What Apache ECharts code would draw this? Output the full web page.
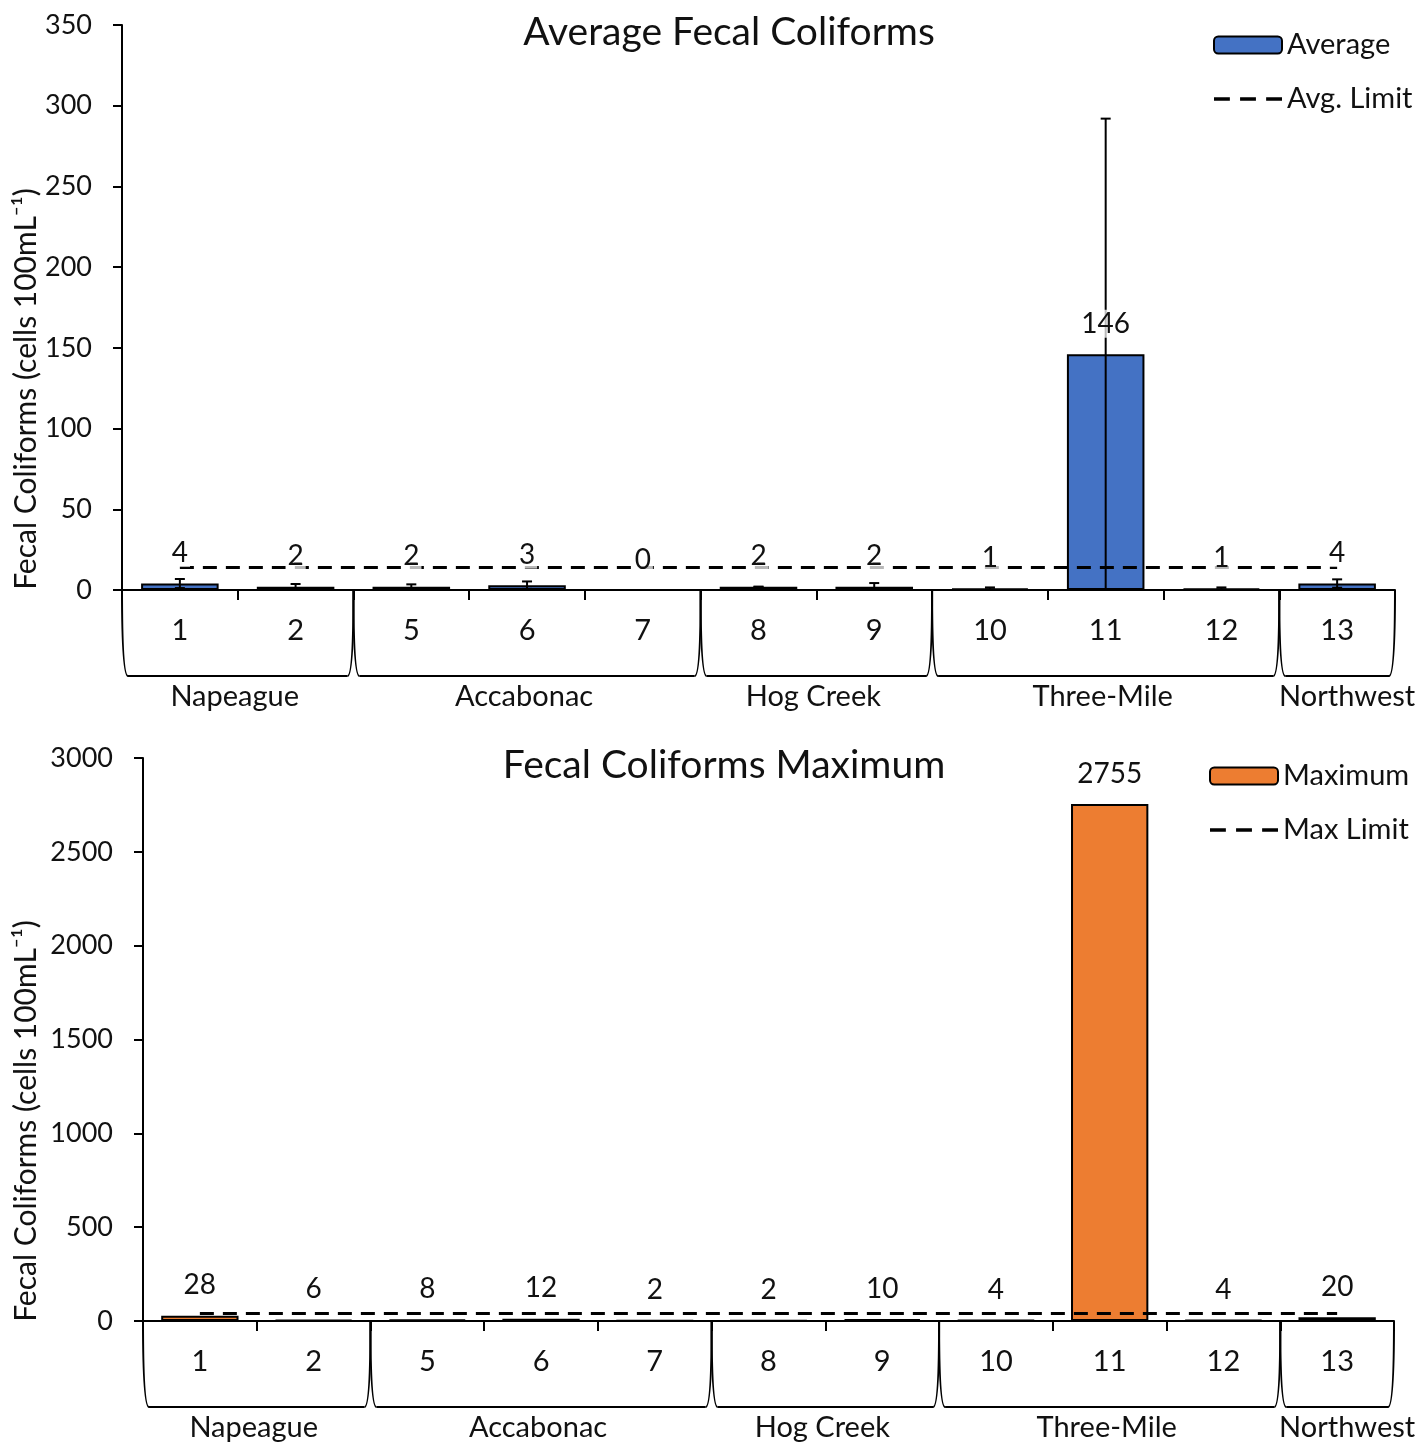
<!DOCTYPE html>
<html>
<head>
<meta charset="utf-8">
<title>Fecal Coliforms</title>
<script src="https://cdn.jsdelivr.net/npm/echarts@6/dist/echarts.min.js"></script>
<style>
  html, body { margin: 0; padding: 0; background: #fff; }
  #chart { width: 1421px; height: 1447px; }
</style>
</head>
<body>
<div id="chart"></div>
<script>
// Sampling stations and the creeks they belong to
const categories = ['1', '2', '5', '6', '7', '8', '9', '10', '11', '12', '13'];
const groups = ['Napeague', 'Accabonac', 'Hog Creek', 'Three-Mile', 'Northwest'];
const groupSizes = [2, 3, 2, 3, 1];

// Average fecal coliforms per station, with standard deviation
const avgValues = [4, 2, 2, 3, 0, 2, 2, 1, 146, 1, 4];
const avgErrors = [2.8, 1.7, 1.5, 2.3, 0, 0, 2.3, 0.6, 146, 0.6, 2.6];

// Maximum fecal coliforms per station
const maxValues = [28, 6, 8, 12, 2, 2, 10, 4, 2755, 4, 20];

// Regulatory limits
const AVG_LIMIT = 14;
const MAX_LIMIT = 43;

// Value axis ranges
const avgAxis = { min: 0, max: 350, interval: 50 };
const maxAxis = { min: 0, max: 3000, interval: 500 };

const FONT = 'Lato';
const TXT = '#111';
const DASH_ICON = 'path://M0,0h14v3h-14zM23,0h14v3h-14zM46,0h14v3h-14z';

const chart = echarts.init(document.getElementById('chart'), null, { renderer: 'canvas' });

const grids = [
  { left: 122, right: 26, top: 25, height: 565 },
  { left: 143, right: 27, top: 758, height: 563 }
];

function xAxisFor(gi) {
  return {
    type: 'category', gridIndex: gi, data: categories,
    axisLine: { lineStyle: { color: '#000', width: 2 } },
    axisTick: { show: true, interval: 0, length: 10, lineStyle: { color: '#000', width: 2 } },
    axisLabel: { fontFamily: FONT, fontSize: 29, color: TXT, margin: 26, interval: 0 },
    splitLine: { show: false }
  };
}
function yAxisFor(gi, r) {
  return {
    type: 'value', gridIndex: gi, min: r.min, max: r.max, interval: r.interval,
    axisLine: { show: true, lineStyle: { color: '#000', width: 2 } },
    axisTick: { show: true, length: 9, lineStyle: { color: '#000', width: 2 } },
    axisLabel: { fontFamily: FONT, fontSize: 27, color: TXT, margin: 30, formatter: v => String(v) },
    splitLine: { show: false }
  };
}

// Error bars drawn as vertical whiskers with caps
function errorBarRender(params, api) {
  const xi = api.value(0);
  const v = api.value(1);
  const e = api.value(2);
  const hi = api.coord([xi, v + e]);
  const lo = api.coord([xi, Math.max(0, v - e)]);
  const cap = 5;
  const st = { stroke: '#000', lineWidth: 2 };
  return {
    type: 'group',
    children: [
      { type: 'line', shape: { x1: hi[0], y1: hi[1], x2: lo[0], y2: lo[1] }, style: st },
      { type: 'line', shape: { x1: hi[0] - cap, y1: hi[1], x2: hi[0] + cap, y2: hi[1] }, style: st },
      { type: 'line', shape: { x1: lo[0] - cap, y1: lo[1], x2: lo[0] + cap, y2: lo[1] }, style: st }
    ]
  };
}

function valueLabels(name, gi, values) {
  return {
    name: name, type: 'scatter', xAxisIndex: gi, yAxisIndex: gi, z: 6,
    symbol: 'rect', symbolSize: 1, itemStyle: { color: 'rgba(0,0,0,0)', opacity: 1 },
    silent: true, legendHoverLink: false, tooltip: { show: false },
    data: values,
    label: {
      show: true, position: 'top', distance: 16,
      fontFamily: FONT, fontSize: 28, color: TXT,
      backgroundColor: 'rgba(255,255,255,0.72)', padding: [0, 2, 0, 2],
      formatter: p => String(p.value)
    }
  };
}

function limitLine(name, gi, limit) {
  const ls = { color: '#000', width: 3, type: [14, 9] };
  return {
    name: name, type: 'line', xAxisIndex: gi, yAxisIndex: gi, z: 5,
    symbol: 'none', data: [], lineStyle: ls, itemStyle: { color: '#000' },
    markLine: {
      silent: true, symbol: 'none', label: { show: false }, lineStyle: ls,
      data: [[
        { coord: [categories[0], limit] },
        { coord: [categories[categories.length - 1], limit] }
      ]]
    }
  };
}

const legendText = { fontFamily: FONT, fontSize: 29, color: TXT, lineHeight: 30 };
const titleText = { fontFamily: FONT, fontSize: 39, fontWeight: 'normal', color: TXT };

const option = {
  animation: false,
  backgroundColor: '#fff',
  title: [
    { text: 'Average Fecal Coliforms', left: 724, top: 8, textAlign: 'center', textStyle: titleText },
    { text: 'Fecal Coliforms Maximum', left: 719, top: 741, textAlign: 'center', textStyle: titleText }
  ],
  legend: [
    { data: ['Average', { name: 'Avg. Limit', icon: DASH_ICON }], orient: 'vertical', left: 1208, top: 25,
      itemWidth: 68, itemHeight: 17, itemGap: 24, textStyle: legendText, selectedMode: false },
    { data: ['Maximum', { name: 'Max Limit', icon: DASH_ICON }], orient: 'vertical', left: 1204, top: 756,
      itemWidth: 68, itemHeight: 17, itemGap: 24, textStyle: legendText, selectedMode: false }
  ],
  grid: grids,
  xAxis: [xAxisFor(0), xAxisFor(1)],
  yAxis: [yAxisFor(0, avgAxis), yAxisFor(1, maxAxis)],
  series: [
    {
      name: 'Average', type: 'bar', xAxisIndex: 0, yAxisIndex: 0, z: 2,
      data: avgValues, barCategoryGap: '33%',
      itemStyle: { color: '#4472C4', borderColor: '#000', borderWidth: 2 }
    },
    {
      name: 'Average SD', type: 'custom', xAxisIndex: 0, yAxisIndex: 0, z: 4,
      renderItem: errorBarRender,
      encode: { x: 0, y: 1 },
      data: avgValues.map((v, i) => [i, v, avgErrors[i]])
    },
    limitLine('Avg. Limit', 0, AVG_LIMIT),
    valueLabels('Average values', 0, avgValues),
    {
      name: 'Maximum', type: 'bar', xAxisIndex: 1, yAxisIndex: 1, z: 2,
      data: maxValues, barCategoryGap: '32%',
      itemStyle: { color: '#ED7D31', borderColor: '#000', borderWidth: 2 }
    },
    limitLine('Max Limit', 1, MAX_LIMIT),
    valueLabels('Maximum values', 1, maxValues)
  ]
};

chart.setOption(option);

// Two-level category axis: brackets under each creek's stations plus the creek name
function groupGraphics(gi) {
  const els = [];
  const centers = categories.map(c => chart.convertToPixel({ gridIndex: gi }, [c, 0]));
  const y0 = centers[0][1];
  const band = centers[1][0] - centers[0][0];
  const depth = 86, r = 6;
  const st = { fill: null, stroke: '#000', lineWidth: 2 };
  let start = 0;
  groupSizes.forEach((n, k) => {
    const end = start + n - 1;
    const x0 = centers[start][0] - band / 2;
    const x1 = centers[end][0] + band / 2;
    const y1 = y0 + depth;
    els.push({ type: 'bezierCurve', silent: true, style: st,
      shape: { x1: x0, y1: y0, cpx1: x0, cpy1: y1, x2: x0 + r, y2: y1 } });
    els.push({ type: 'line', silent: true, style: st,
      shape: { x1: x0 + r, y1: y1, x2: x1 - r, y2: y1 } });
    els.push({ type: 'bezierCurve', silent: true, style: st,
      shape: { x1: x1, y1: y0, cpx1: x1, cpy1: y1, x2: x1 - r, y2: y1 } });
    els.push({
      type: 'text', silent: true,
      x: (x0 + x1) / 2 + (k === groups.length - 1 ? 10 : -3), y: y0 + 107,
      style: { text: groups[k], fontFamily: FONT, fontSize: 29, fill: TXT, align: 'center', verticalAlign: 'middle' }
    });
    start = end + 1;
  });
  return els;
}

// Rotated value-axis titles
const axisTitle = 'Fecal Coliforms (cells 100mL\u207B\u00B9)';
const axisTitleStyle = { text: axisTitle, fontFamily: FONT, fontSize: 30, fill: TXT, align: 'center', verticalAlign: 'middle' };
const titles = [
  { type: 'text', silent: true, x: 26, y: 389, rotation: Math.PI / 2, style: axisTitleStyle },
  { type: 'text', silent: true, x: 26, y: 1121, rotation: Math.PI / 2, style: axisTitleStyle }
];

chart.setOption({ graphic: groupGraphics(0).concat(groupGraphics(1)).concat(titles) });
</script>
</body>
</html>
